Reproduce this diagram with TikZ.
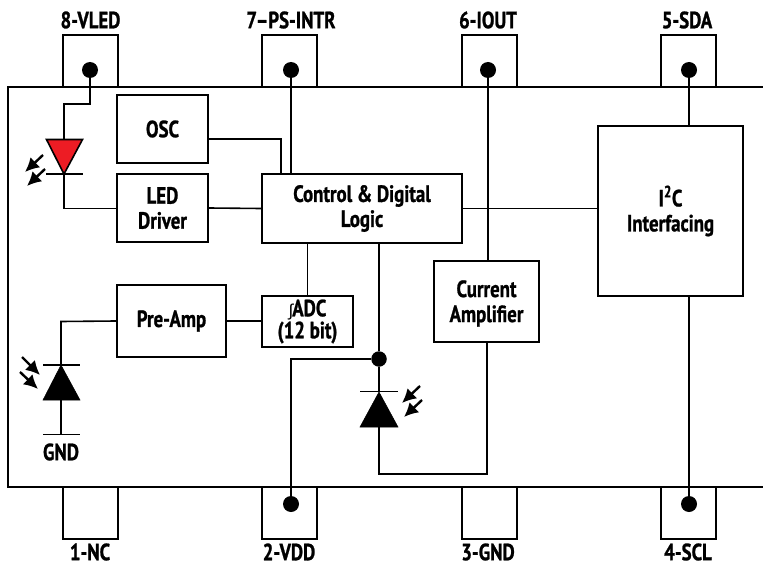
\documentclass[tikz,border=0pt]{standalone}
\usepackage{fontspec}
\setmainfont[BoldFont={PT Sans Bold},BoldFeatures={FakeStretch=0.8,FakeBold=1}]{PT Sans}
\newfontfamily\intfont{Liberation Sans}
\usetikzlibrary{calc,arrows.meta}
\tikzset{
  every node/.style={font=\fontsize{23.5}{25}\selectfont\bfseries,align=center,inner sep=0pt},
  blk/.style={draw=black,line width=2pt,rectangle,fill=white},
  pin/.style={draw=black,line width=1.8pt,rectangle,minimum width=55pt,minimum height=52pt},
  dot/.style={circle,fill=black,minimum size=16pt},
  wire/.style={line width=1.6pt,line join=miter},
  bus/.style={line width=2.8pt,line join=miter},
  diode/.style={line width=0.5pt,draw=black,fill=black},
  bar/.style={line width=1.6pt},
  ray/.style={line width=2.4pt,-{Latex[length=14pt,width=14pt]}},
}
\begin{document}
\begin{tikzpicture}[x=1pt,y=-1pt]
\useasboundingbox (0,0) rectangle (763,567);
\fill[white] (0,0) rectangle (763,567);

% pins
\node[pin] (p8) at (90.5,61) {};
\node[pin] (p7) at (289.5,61) {};
\node[pin] (p6) at (489.5,61) {};
\node[pin] (p5) at (688.5,61) {};
\node[pin] (p1) at (90.5,513) {};
\node[pin] (p2) at (289.5,513) {};
\node[pin] (p3) at (489.5,513) {};
\node[pin] (p4) at (688.5,513) {};

% chip outline
\coordinate (cTR) at (764,87);
\coordinate (cTL) at (8,87);
\coordinate (cBL) at (8,487);
\coordinate (cBR) at (764,487);
\draw[line width=1.8pt] (cTR) -- (cTL) -- (cBL) -- (cBR);

% blocks
\node[blk,minimum width=91pt,minimum height=68pt] (osc) at (162.5,129) {OSC};
\node[blk,minimum width=91pt,minimum height=68pt] (drv) at (162.5,208) {LED\\Driver};
\node[blk,minimum width=200pt,minimum height=69pt] (ctl) at (362,208.5) {Control \& Digital\\Logic};
\node[blk,minimum width=145pt,minimum height=170pt] (i2c) at (670.5,211) {I\textsuperscript{2}C\\Interfacing};
\node[blk,minimum width=105pt,minimum height=81pt] (cur) at (486.5,301.5) {};
\node (curt) at (486.5,303.5) {Current\\Amplifier};
\node[blk,minimum width=109pt,minimum height=72pt] (pre) at (171.5,321) {Pre-Amp};
\node[blk,minimum width=91pt,minimum height=51pt,font=\fontsize{23.5}{22}\selectfont\bfseries] (adc) at (307.5,321.5) {{\intfont\fontseries{m}\selectfont\fontsize{17}{17}\selectfont ∫}\kern-1pt ADC\\(12 bit)};

% pin dots
\node[dot] (d8) at (90,70) {};
\node[dot] (d7) at (291,70) {};
\node[dot] (d6) at (488,70) {};
\node[dot] (d5) at (689,70) {};
\node[dot] (d2) at (291,504) {};
\node[dot] (d4) at (689,504) {};
\node[dot,minimum size=15.5pt] (dj) at (379,359) {};

% heavier wires
\draw[bus] (d7) -- (d7|-ctl.north);
\draw[bus] (d6) -- (d6|-cur.north);
\draw[bus] (d5) -- (d5|-i2c.north);
\draw[bus] (d4) -- (d4|-i2c.south);
\draw[bus] (d2) |- (dj);
\draw[bus] (dj|-ctl.south) -- (dj);

% LED
\coordinate (l1) at (64,104);
\coordinate (la) at (64,139);
\coordinate (lk) at (64,174);
\coordinate (l2) at (64,208.5);
\draw[wire] (d8) -- (d8|-l1) -- (l1) -- (la);
\draw[line width=1.6pt,draw=black,fill={rgb,255:red,237;green,28;blue,36},line join=miter] (46.5,139.5) -- (82.5,139.5) -- (lk) -- cycle;
\draw[bar] (46,174) -- (83,174);
\draw[wire] (lk) -- (l2) -- (drv.west|-l2);
\coordinate (a1) at (43,155); \coordinate (a2) at (25,172);
\coordinate (a3) at (45,169); \coordinate (a4) at (27,186);
\draw[ray] (a1) -- (a2);
\draw[ray] (a3) -- (a4);

% Photodiode, Pre-Amp
\coordinate (g1) at (61,321.5);
\coordinate (gk) at (61,365);
\coordinate (gb) at (61,400);
\coordinate (gg) at (61,434);
\draw[wire] (pre.west) -- (g1) -- (gk);
\draw[diode] (gk) -- (80,400) -- (43,400) -- cycle;
\draw[bar] (43,365) -- (80,365);
\draw[wire] (gb) -- (gg);
\draw[bar] (43,434.5) -- (80,434.5);
\coordinate (b1) at (22,357); \coordinate (b2) at (40,375);
\coordinate (b3) at (20,372); \coordinate (b4) at (38,389);
\draw[ray] (b1) -- (b2);
\draw[ray] (b3) -- (b4);
\node (gnd) at (61,452) {GND};

% Photodiode, middle
\coordinate (mk) at (379,392);
\coordinate (mb) at (379,427);
\coordinate (m1) at (379,474);
\coordinate (m2) at (487,474);
\draw[wire] (dj) -- (mk);
\draw[diode] (mk) -- (398,427) -- (360,427) -- cycle;
\draw[bar] (360,391.5) -- (398,391.5);
\draw[wire] (mb) -- (m1) -- (m2) -- (m2|-cur.south);
\coordinate (c1) at (420,386); \coordinate (c2) at (402,403);
\coordinate (c3) at (422,400); \coordinate (c4) at (404,417);
\draw[ray] (c1) -- (c2);
\draw[ray] (c3) -- (c4);

% signal wires
\coordinate (o1) at ($(osc.east)+(0,10)$);
\coordinate (o2) at (281,139);
\draw[wire] (o1) -- (o2) -- (o2|-ctl.north);
\draw[wire] (drv.east) -- (ctl.west);
\draw[wire] (ctl.east) -- (i2c.west|-ctl.east);
\draw[wire] (pre.east) -- (adc.west|-pre.east);
\draw[wire] (adc.north|-ctl.south) -- (adc.north);

% pin labels
\node (l8) at (90.5,20) {8-VLED};
\node (l7) at (291,20) {7--PS-INTR};
\node (l6) at (488,20) {6-IOUT};
\node (l5) at (687,20) {5-SDA};
\node (l1t) at (90,552) {1-NC};
\node (l2t) at (289,552) {2-VDD};
\node (l3t) at (488,552) {3-GND};
\node (l4t) at (688,552) {4-SCL};
\end{tikzpicture}
\end{document}
